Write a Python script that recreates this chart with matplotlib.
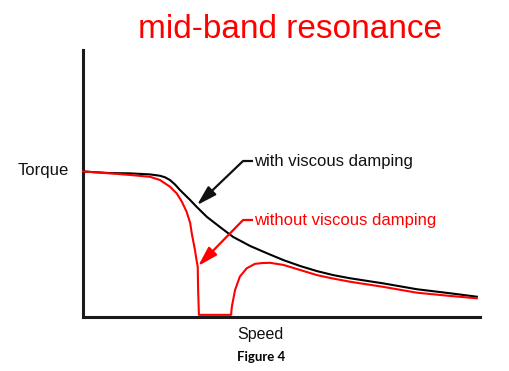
import matplotlib
matplotlib.use('Agg')
import matplotlib.pyplot as plt

# Кривые момента (условные единицы: скорость 0-100, момент 0-100)
speed_damped = [0, 6.8, 11.8, 16.9, 19.4, 20.7, 21.9, 23.2, 24.4, 27.0, 28.6, 31.2, 34.5,
                37.8, 42.1, 46.3, 50.5, 54.7, 58.9, 63.0, 67.3, 75.6, 84.1, 92.4, 99.2]
torque_damped = [54.5, 53.9, 53.8, 53.4, 52.9, 52.3, 51.3, 49.6, 47.6, 43.8, 41.3, 37.5, 33.7,
                 30.0, 26.6, 23.9, 21.3, 19.1, 17.2, 15.7, 14.5, 12.6, 10.4, 8.9, 7.6]

speed_undamped = [0, 6.8, 11.8, 16.9, 19.4, 21.9, 23.6, 24.9, 26.1, 27.0, 27.4, 28.2,
                  28.6, 28.9, 29.0, 29.2, 37.3, 37.5, 38.3, 39.5, 41.2, 43.3, 45.1, 47.1,
                  50.5, 54.7, 58.9, 63.0, 67.3, 75.6, 84.1, 92.4, 99.2]
torque_undamped = [54.5, 53.8, 53.2, 52.5, 51.3, 48.8, 46.3, 43.2, 39.4, 35.2, 31.3, 25.1,
                   21.3, 18.8, 10.1, 0.8, 0.8, 3.9, 10.1, 15.1, 18.2, 19.9, 20.2, 20.3,
                   19.5, 17.6, 15.7, 14.4, 13.2, 11.3, 9.1, 7.9, 7.0]

# подписи со стрелками: (начало текста, излом, острие)
label_damped = 'with viscous damping'
arrow_damped = [(42.8, 58.4), (40.3, 58.4), (28.7, 41.9)]
label_undamped = 'without viscous damping'
arrow_undamped = [(42.8, 36.3), (40.3, 36.3), (29.0, 19.1)]

plt.rcParams['font.family'] = ['Liberation Sans', 'DejaVu Sans']

W, H = 510, 371
fig = plt.figure(figsize=(W / 100, H / 100), dpi=100)
ax = fig.add_axes([83 / W, (H - 317) / H, 397 / W, 267 / H])
ax.set_xlim(0, 100)
ax.set_ylim(0, 100)
ax.set_xticks([])
ax.set_yticks([])
for s in ['top', 'right']:
    ax.spines[s].set_visible(False)
for s in ['left', 'bottom']:
    ax.spines[s].set_linewidth(2.2)
    ax.spines[s].set_color('#1a1a1a')

ax.plot(speed_damped, torque_damped, color='black', lw=1.5, zorder=3,
        solid_joinstyle='round')
ax.plot(speed_undamped, torque_undamped, color='red', lw=1.5, zorder=4, clip_on=False,
        solid_joinstyle='round')

for pts, col, txt in [(arrow_damped, '#111111', label_damped),
                      (arrow_undamped, 'red', label_undamped)]:
    (tx, ty), (ex, ey), (px, py) = pts
    ax.plot([tx, ex], [ty, ey], color=col, lw=1.6, solid_capstyle='butt', zorder=5)
    ax.annotate('', xy=(px, py), xytext=(ex, ey),
                arrowprops=dict(arrowstyle='-|>,head_length=1.2,head_width=0.35',
                                color=col, lw=1.6, shrinkA=0, shrinkB=0), zorder=5)
    ax.text(tx + 0.2, ty, txt, color=col, fontsize=12, va='center', ha='left')

def px_text(x, y, s, **kw):
    fig.text(x / W, 1 - y / H, s, **kw)

px_text(290, 29, 'mid-band resonance', color='red', fontsize=24, ha='center', va='center')
px_text(43, 170, 'Torque', color='#111111', fontsize=12, ha='center', va='center')
px_text(260, 335, 'Speed', color='#111111', fontsize=11.5, ha='center', va='center')
px_text(261, 357, 'Figure 4', color='black', fontsize=9.5, fontweight='bold',
        family=['Lato', 'DejaVu Sans'], ha='center', va='center')

fig.savefig('out.png', dpi=100)
